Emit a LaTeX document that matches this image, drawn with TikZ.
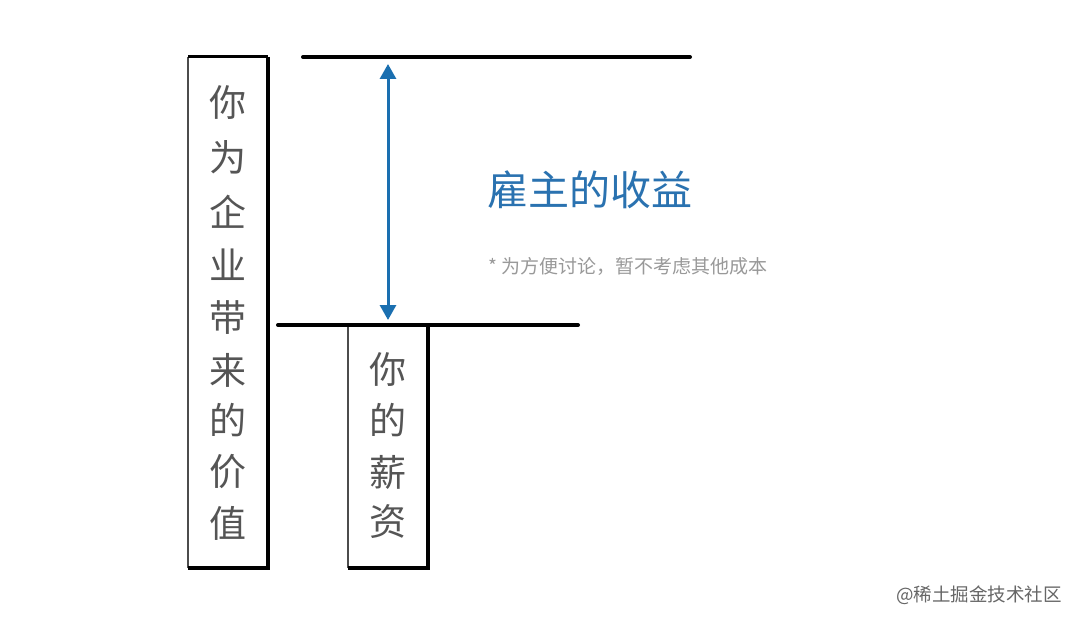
\documentclass[tikz,border=0pt]{standalone}
\usepackage{fontspec}
\newfontfamily\cjk{Noto Sans CJK SC}
\usetikzlibrary{arrows.meta}
\definecolor{arrowblue}{HTML}{1A6FB0}
\definecolor{titleblue}{HTML}{2A72B0}
\definecolor{txtgray}{HTML}{555555}
\definecolor{notegray}{HTML}{999999}
\tikzset{
  thinedge/.style={line width=1.5pt, draw=black!70},
  thickedge/.style={line width=4.5pt, draw=black},
  hline/.style={line width=4pt, draw=black, line cap=round},
  vchar/.style={font=\cjk\fontsize{37}{37}\selectfont, text=txtgray, inner sep=0pt},
  arr/.style={line width=3pt, draw=arrowblue, {Triangle[length=15pt,width=16pt]}-{Triangle[length=15pt,width=16pt]}}
}
\begin{document}
\begin{tikzpicture}[x=1pt,y=-1pt]
\useasboundingbox[fill=white] (0,0) rectangle (1079,623);
% left box
\coordinate (LA) at (188,57); \coordinate (LB) at (268,57);
\coordinate (LC) at (268,568); \coordinate (LD) at (188,568);
\draw[thinedge] (LD) -- (LA);
\draw[line width=3pt] (LA) -- (LB);
\draw[thickedge] (LB) -- (LC) -- (LD);
% small box
\coordinate (SA) at (348,325); \coordinate (SB) at (428,325);
\coordinate (SC) at (428,568); \coordinate (SD) at (348,568);
\draw[thinedge] (SD) -- (SA);
\draw[thickedge] (SB) -- (SC) -- (SD);
% horizontal lines
\coordinate (T1) at (303,57); \coordinate (T2) at (690,57);
\coordinate (M1) at (278,325); \coordinate (M2) at (578,325);
\draw[hline] (T1) -- (T2);
\draw[hline] (M1) -- (M2);
% arrow
\coordinate (AT) at (388,64); \coordinate (AB) at (388,320);
\draw[arr] (AB) -- (AT);
% left box text
\foreach \c/\y [count=\i] in {你/103,为/157,企/212,业/265,带/318,来/370,的/420,价/472,值/523}
  \node[vchar] (l\i) at (228,\y) {\c};
% small box text
\foreach \c/\y [count=\i] in {你/370,的/420,薪/472,资/522}
  \node[vchar] (s\i) at (388,\y) {\c};
% title
\node[anchor=west, inner sep=0pt, font=\cjk\fontsize{41}{41}\selectfont, text=titleblue] (title) at (487,190) {雇主的收益};
\node[anchor=west, inner sep=0pt, font=\cjk\fontsize{19}{19}\selectfont, text=notegray] (note) at (488,266) {* 为方便讨论，暂不考虑其他成本};
\node[anchor=east, inner sep=0pt, font=\cjk\fontsize{18.5}{18.5}\selectfont, text=black!60] (wm) at (1062,595) {@稀土掘金技术社区};
\end{tikzpicture}
\end{document}
